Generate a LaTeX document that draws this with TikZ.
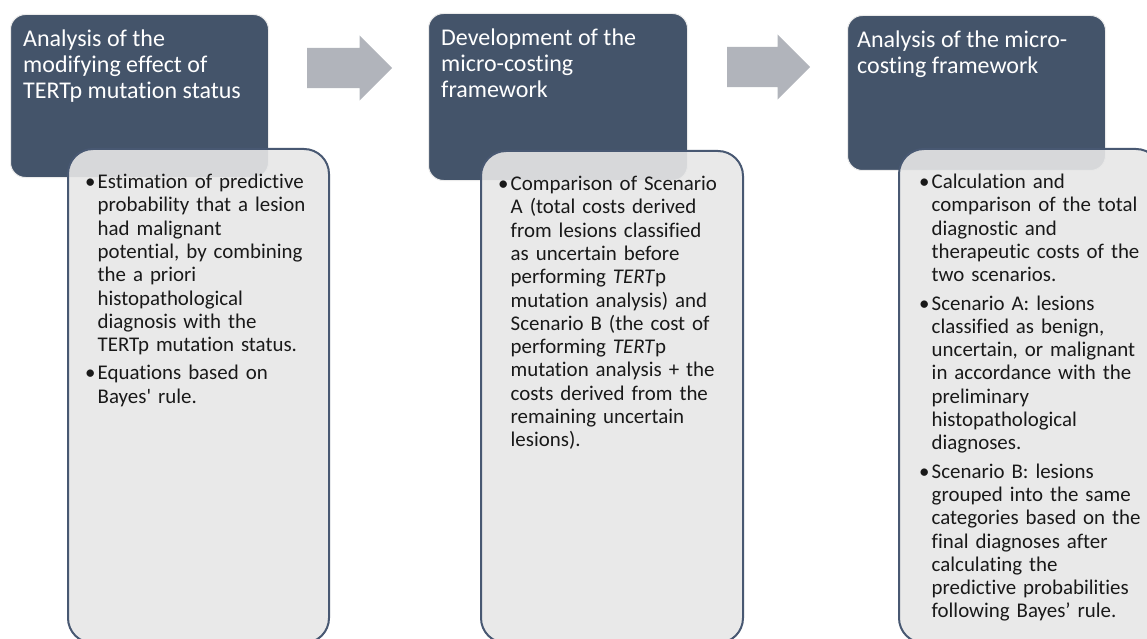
\documentclass[tikz,border=0pt]{standalone}
\usepackage{fontspec}
\setmainfont{Carlito}[Ligatures={TeX,NoCommon}]
\usetikzlibrary{shapes.arrows}

\definecolor{testata}{RGB}{68,84,106}
\definecolor{bordo}{RGB}{72,88,114}
\definecolor{sfondo}{RGB}{231,231,231}
\definecolor{freccia}{RGB}{177,180,187}

% punto elenco con rientro sospeso
\newcommand{\punto}[1]{\par\hangindent=12.5pt\hangafter=1\noindent\makebox[12.5pt][l]{\textbullet}#1\par}

\begin{document}
\begin{tikzpicture}[x=1pt, y=-1pt,
	testa/.style={fill=testata, draw=black!8, line width=1pt, rounded corners=15pt, anchor=north west, inner sep=0pt},
	titolo/.style={anchor=north west, inner sep=0pt, align=left, text=white, font=\fontsize{24}{26}\selectfont},
	riquadro/.style={fill=sfondo, fill opacity=0.9, draw=bordo, line width=2pt, rounded corners=25pt, anchor=north west, inner sep=0pt},
	elenco/.style={anchor=north west, inner sep=0pt, text width=250pt, text=black!90, font=\fontsize{20.9}{23.3}\selectfont},
	blocco/.style={single arrow, fill=freccia, single arrow head extend=12.5pt, inner sep=0pt, inner ysep=20pt, minimum height=85pt, anchor=tail}]
	\useasboundingbox (0,0) rectangle (1147,639);
	
	% Intestazioni scure
	\node[testa, minimum width=258pt, minimum height=163pt] (testa1) at (10,14) {};
	\node[testa, minimum width=259pt, minimum height=167pt] (testa2) at (428,13) {};
	\node[testa, minimum width=258pt, minimum height=155pt] (testa3) at (847,15) {};
	
	\node[titolo] (titolo1) at ([xshift=13pt, yshift=-16pt]testa1.north west) {Analysis of the\\ modifying effect of\\ TERTp mutation status};
	\node[titolo] (titolo2) at ([xshift=13pt, yshift=-16pt]testa2.north west) {Development of the\\ micro-costing\\ framework};
	\node[titolo] (titolo3) at ([xshift=10pt, yshift=-16pt]testa3.north west) {Analysis of the micro-\\costing framework};
	
	% Riquadri grigi sovrapposti
	\node[riquadro, minimum width=261pt, minimum height=494pt] (corpo1) at (67,148) {};
	\node[riquadro, minimum width=262pt, minimum height=492pt] (corpo2) at (480,150) {};
	\node[riquadro, minimum width=262pt, minimum height=494pt] (corpo3) at (898,148) {};
	
	\node[elenco] (voci1) at ([xshift=18pt, yshift=-17pt]corpo1.north west) {%
		\punto{Estimation of predictive\newline probability that a lesion\newline had malignant\newline potential, by combining\newline the a priori\newline histopathological\newline diagnosis with the\newline TERTp mutation status.}
		\vspace{5pt}
		\punto{Equations based on\newline Bayes\textquotesingle\ rule.}};
	\node[elenco] (voci2) at ([xshift=18pt, yshift=-17pt]corpo2.north west) {%
		\punto{Comparison of Scenario\newline A (total costs derived\newline from lesions classified\newline as uncertain before\newline performing \textit{TERT}p\newline mutation analysis) and\newline Scenario B (the cost of\newline performing \textit{TERT}p\newline mutation analysis + the\newline costs derived from the\newline remaining uncertain\newline lesions).}};
	\node[elenco] (voci3) at ([xshift=21pt, yshift=-17pt]corpo3.north west) {%
		\punto{Calculation and\newline comparison of the total\newline diagnostic and\newline therapeutic costs of the\newline two scenarios.}
		\vspace{5pt}
		\punto{Scenario A: lesions\newline classified as benign,\newline uncertain, or malignant\newline in accordance with the\newline preliminary\newline histopathological\newline diagnoses.}
		\vspace{5pt}
		\punto{Scenario B: lesions\newline grouped into the same\newline categories based on the\newline final diagnoses after\newline calculating the\newline predictive probabilities\newline following Bayes' rule.}};
	
	% Frecce tra le fasi
	\node[blocco] (freccia1) at (307,68) {};
	\node[blocco, minimum height=83pt] (freccia2) at (727,67) {};
\end{tikzpicture}
\end{document}
